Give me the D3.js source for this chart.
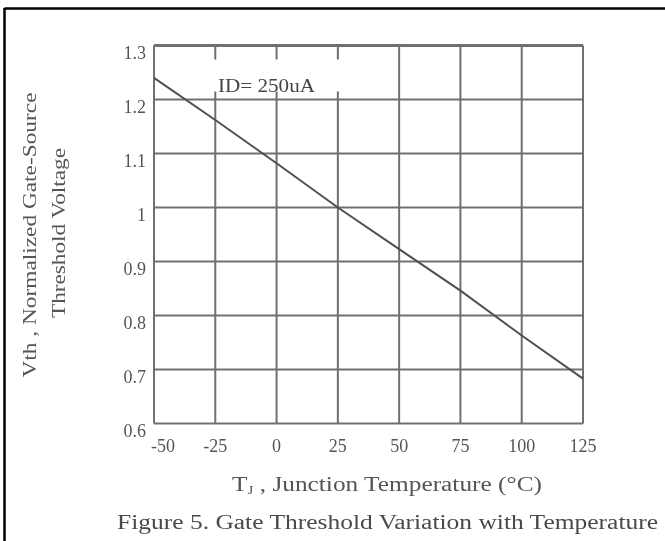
<!DOCTYPE html>
<html>
<head>
<meta charset="utf-8">
<script src="https://cdn.jsdelivr.net/npm/d3@7"></script>
<style>
  html, body { margin: 0; padding: 0; background: #fff; }
  svg { display: block; }
  text { font-family: "Liberation Serif", "Times New Roman", serif; }
</style>
</head>
<body>
<svg id="chart" width="665" height="541"></svg>
<script>
// Junction temperature (°C) and normalized gate-source threshold voltage
const temps = [-50, -25, 0, 25, 50, 75, 100, 125];
const vthNorm = [1.240, 1.162, 1.082, 1.000, 0.923, 0.846, 0.763, 0.683];
const xTicks = [-50, -25, 0, 25, 50, 75, 100, 125];
const yTicks = [0.6, 0.7, 0.8, 0.9, 1.0, 1.1, 1.2, 1.3];
const yTickLabels = ["0.6", "0.7", "0.8", "0.9", "1", "1.1", "1.2", "1.3"];
const xTickLabels = ["-50", "-25", "0", "25", "50", "75", "100", "125"];

const svg = d3.select("#chart");
const plot = { left: 154, right: 583, top: 45.5, bottom: 423.5 };

const x = d3.scaleLinear().domain([-50, 125]).range([plot.left, plot.right]);
const y = d3.scaleLinear().domain([0.6, 1.3]).range([plot.bottom, plot.top]);

const gridColor = "#707070";
const textColor = "#555";

// soft rendering for the printed figure
const defs = svg.append("defs");
defs.append("filter").attr("id", "soft")
  .attr("x", "-5%").attr("y", "-5%").attr("width", "110%").attr("height", "110%")
  .append("feGaussianBlur").attr("stdDeviation", 0.55);

// outer frame (top and left edges of the figure box)
svg.append("line").attr("x1", 4.5).attr("x2", 665).attr("y1", 8.5).attr("y2", 8.5)
  .attr("stroke", "#000").attr("stroke-width", 2.5);
svg.append("line").attr("x1", 4.5).attr("x2", 4.5).attr("y1", 8).attr("y2", 541)
  .attr("stroke", "#000").attr("stroke-width", 2.5);

const g = svg.append("g").attr("filter", "url(#soft)");

// vertical grid lines
g.append("g").selectAll("line").data(xTicks).join("line")
  .attr("x1", d => x(d)).attr("x2", d => x(d))
  .attr("y1", plot.top).attr("y2", plot.bottom)
  .attr("stroke", gridColor).attr("stroke-width", 2);

// horizontal grid lines
g.append("g").selectAll("line").data(yTicks).join("line")
  .attr("x1", plot.left).attr("x2", plot.right)
  .attr("y1", d => y(d)).attr("y2", d => y(d))
  .attr("stroke", gridColor).attr("stroke-width", d => d === 1.3 ? 2.8 : 2);

// blank area behind the test-condition note
g.append("rect")
  .attr("x", x(-37)).attr("y", y(1.3) + 14)
  .attr("width", x(33) - x(-37)).attr("height", y(1.2) - y(1.3) - 22)
  .attr("fill", "#fff");

g.append("text")
  .attr("x", 218).attr("y", 92)
  .attr("font-size", 18).attr("fill", "#444")
  .attr("textLength", 97).attr("lengthAdjust", "spacingAndGlyphs")
  .text("ID= 250uA");

// threshold voltage curve
const line = d3.line().x((d, i) => x(temps[i])).y(d => y(d));
g.append("path").datum(vthNorm)
  .attr("d", line)
  .attr("fill", "none").attr("stroke", "#505050").attr("stroke-width", 2);

// y tick labels
g.append("g").selectAll("text").data(yTicks).join("text")
  .attr("x", 146).attr("y", d => y(d) + 9)
  .attr("text-anchor", "end").attr("dominant-baseline", "middle")
  .attr("font-size", 18).attr("fill", textColor)
  .text((d, i) => yTickLabels[i]);

// x tick labels
g.append("g").selectAll("text").data(xTicks).join("text")
  .attr("x", d => x(d) + (d === -50 ? 9 : 0)).attr("y", 448)
  .attr("text-anchor", "middle").attr("dominant-baseline", "middle")
  .attr("font-size", 18).attr("fill", textColor)
  .text((d, i) => xTickLabels[i]);

// x axis title
const xt = g.append("text")
  .attr("x", 232).attr("y", 491)
  .attr("font-size", 20).attr("fill", textColor)
  .attr("textLength", 310).attr("lengthAdjust", "spacingAndGlyphs");
xt.append("tspan").text("T");
xt.append("tspan").attr("font-size", 12).attr("dy", 3).text("J");
xt.append("tspan").attr("dy", -3).text(" , Junction Temperature (°C)");

// y axis title, two rotated lines
g.append("text")
  .attr("transform", "translate(36,235) rotate(-90)")
  .attr("text-anchor", "middle")
  .attr("font-size", 19).attr("fill", textColor)
  .attr("textLength", 285).attr("lengthAdjust", "spacingAndGlyphs")
  .text("Vth , Normalized Gate-Source");

g.append("text")
  .attr("transform", "translate(65,233) rotate(-90)")
  .attr("text-anchor", "middle")
  .attr("font-size", 19).attr("fill", textColor)
  .attr("textLength", 170).attr("lengthAdjust", "spacingAndGlyphs")
  .text("Threshold Voltage");

// figure caption
g.append("text")
  .attr("x", 117).attr("y", 529)
  .attr("font-size", 20).attr("fill", "#4a4a4a")
  .attr("textLength", 541).attr("lengthAdjust", "spacingAndGlyphs")
  .text("Figure 5. Gate Threshold Variation with Temperature");
</script>
</body>
</html>
